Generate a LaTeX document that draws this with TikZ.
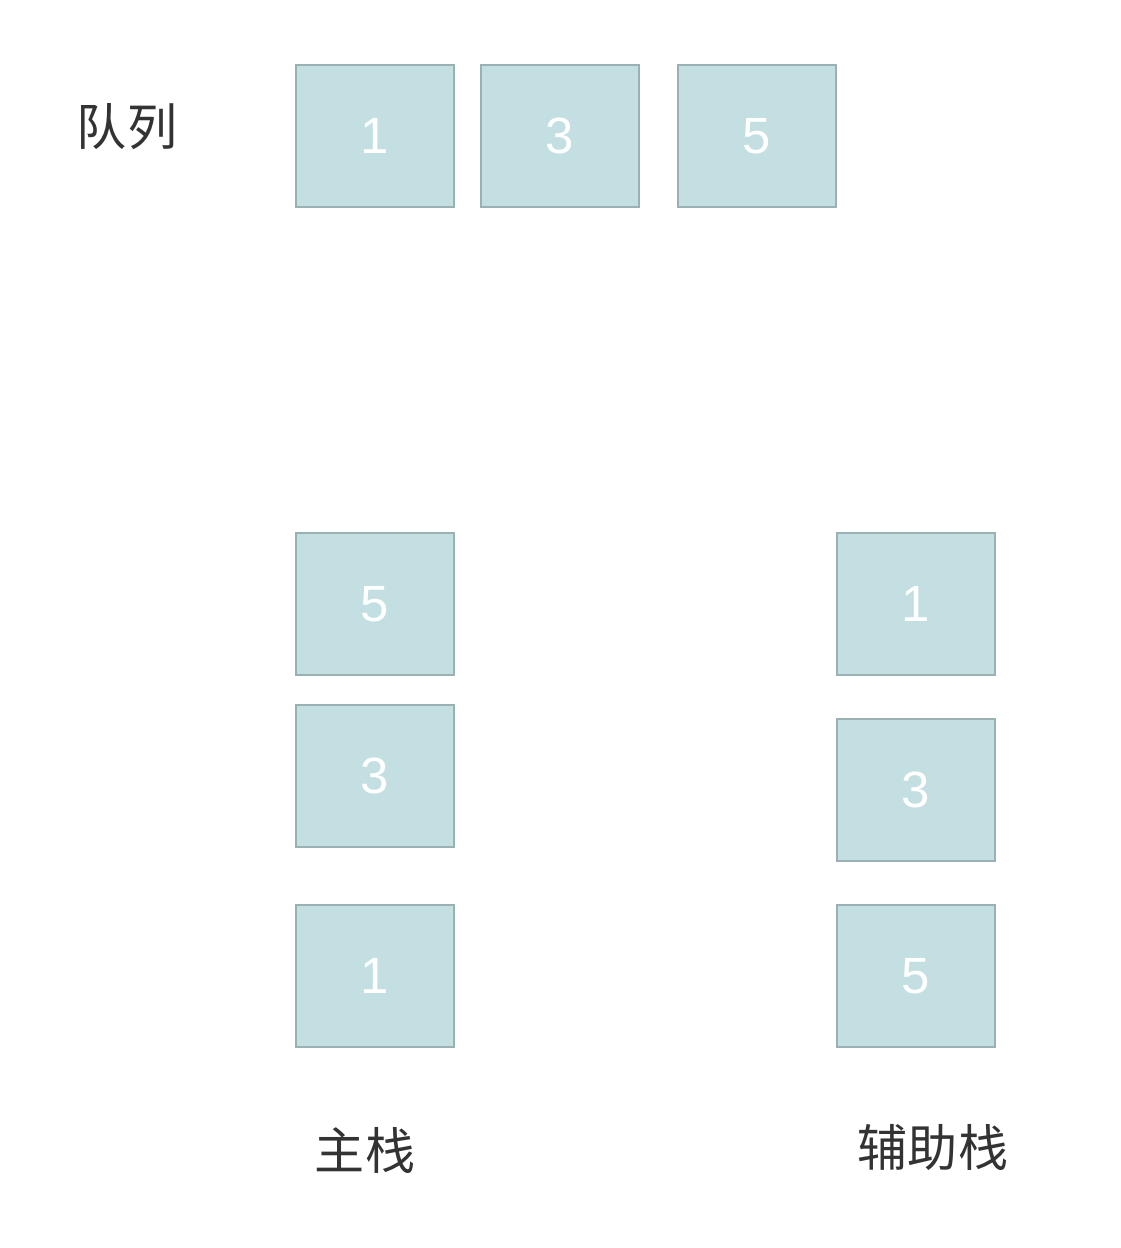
\documentclass[tikz,border=0pt]{standalone}
\usepackage{fontspec}
\setmainfont{Liberation Sans}
\newfontfamily\cjk{Noto Sans CJK SC}
\usepackage{tikz}
\definecolor{boxfill}{HTML}{C3DFE1}
\definecolor{boxline}{HTML}{9BB0B3}
\definecolor{labeltext}{HTML}{333333}

\begin{document}
\begin{tikzpicture}[x=0.02cm,y=-0.02cm,
	cell/.style={draw=boxline,fill=boxfill,line width=0.9pt,minimum width=3.16cm,minimum height=2.84cm,inner sep=0pt,text=white,font=\fontsize{29}{29}\selectfont},
	title/.style={text=labeltext,font=\cjk\fontsize{28.5}{28.5}\selectfont}]
	\useasboundingbox (0,0) rectangle (1120,1248);

	% queue
	\node[title] (queue) at (127,127) {队列};
	\node[cell] (q1) at (375,136) {1};
	\node[cell] (q3) at (560,136) {3};
	\node[cell] (q5) at (757,136) {5};

	% main stack
	\node[cell] (m5) at (375,604) {5};
	\node[cell] (m3) at (375,776) {3};
	\node[cell] (m1) at (375,976) {1};
	\node[title] (main) at (365,1150) {主栈};

	% helper stack
	\node[cell] (h1) at (916,604) {1};
	\node[cell] (h3) at (916,790) {3};
	\node[cell] (h5) at (916,976) {5};
	\node[title] (help) at (933,1148) {辅助栈};

\end{tikzpicture}
\end{document}
